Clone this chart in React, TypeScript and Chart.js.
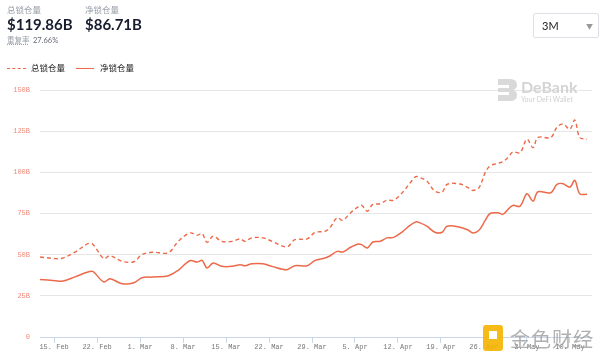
import React, { useEffect, useRef } from "react";
import { Chart, registerables } from "chart.js";

Chart.register(...registerables);

// days offset from 15 Feb
const days = [
  -2.3, 0.2, 1.3, 3.4, 5.5, 6.3, 8.1, 9.1, 11.1, 13.0, 14.3, 16.0, 18.6, 20.2, 22.1, 23.3, 24.1, 24.9,
  25.9, 27.3, 29.0, 30.3, 31.1, 32.2, 34.0, 35.5, 37.9, 39.2, 41.2, 42.5, 44.1, 44.9, 46.1, 47.0,
  48.3, 49.5, 50.1, 51.0, 51.9, 53.1, 54.2, 55.3, 56.8, 58.0, 58.9, 59.6, 60.7, 62.0, 63.2, 64.0,
  66.1, 67.4, 68.2, 69.2, 70.2, 71.0, 72.3, 73.1, 73.9, 74.7, 75.9, 77.0, 78.0, 78.8, 80.9, 81.9,
  82.9, 84.0, 84.8, 85.6, 86.8,
];
const totalLocked = [
  48.6, 47.6, 47.8, 51.5, 56.7, 56.3, 47.6, 49.4, 45.9, 45.7, 50.0, 51.5, 51.2, 58.0, 63.2, 61.8, 62.8, 57.5,
  61.2, 58.1, 58.1, 59.6, 58.1, 60.2, 60.2, 58.1, 54.7, 59.1, 59.6, 63.5, 64.2, 66.3, 72.4, 70.9,
  75.5, 79.0, 79.9, 76.4, 80.5, 80.9, 83.1, 83.1, 88.0, 93.7, 97.4, 96.8, 94.7, 88.6, 88.0, 92.7,
  92.9, 90.7, 89.0, 90.7, 99.8, 103.9, 105.5, 106.5, 109.0, 112.4, 112.0, 120.1, 115.0, 121.2, 121.2, 127.5,
  129.3, 126.2, 131.7, 121.2, 120.1,
];
const netLocked = [
  34.9, 34.2, 33.9, 36.5, 39.5, 39.8, 33.4, 35.4, 32.3, 32.9, 36.0, 36.4, 37.2, 40.5, 46.3, 45.5, 46.5, 41.9,
  44.9, 42.9, 42.9, 43.9, 43.3, 44.5, 44.5, 42.9, 40.9, 43.3, 43.3, 46.5, 48.0, 49.2, 52.0, 51.6,
  54.5, 56.5, 56.1, 54.1, 57.7, 58.1, 60.2, 60.5, 64.2, 67.9, 69.9, 69.3, 67.3, 63.6, 63.6, 67.3,
  66.7, 65.0, 63.2, 64.8, 70.8, 75.0, 75.4, 74.6, 77.4, 79.9, 79.5, 87.0, 82.5, 88.2, 87.6, 92.7,
  93.1, 91.0, 95.1, 87.0, 86.7,
];
const tickDays = [0, 7, 14, 21, 28, 35, 42, 49, 56, 63, 70, 77, 84];
const tickLabels = [
  "15. Feb", "22. Feb", "1. Mar", "8. Mar", "15. Mar", "22. Mar", "29. Mar",
  "5. Apr", "12. Apr", "19. Apr", "26. Apr", "3. May", "10. May",
];
const seriesNames = ["总锁仓量", "净锁仓量"];

const LINE = "#ec6a4a";

export default function App() {
  const ref = useRef<HTMLCanvasElement | null>(null);
  useEffect(() => {
    if (!ref.current) return;
    const chart = new Chart(ref.current, {
      type: "line",
      data: {
        datasets: [
          {
            label: seriesNames[0],
            data: days.map((d, i) => ({ x: d, y: totalLocked[i] })),
            borderColor: LINE,
            borderWidth: 1.4,
            borderDash: [4, 3],
            pointRadius: 0,
            tension: 0.35,
            fill: false,
          },
          {
            label: seriesNames[1],
            data: days.map((d, i) => ({ x: d, y: netLocked[i] })),
            borderColor: LINE,
            borderWidth: 1.5,
            pointRadius: 0,
            tension: 0.35,
            fill: false,
          },
        ],
      },
      options: {
        animation: false,
        responsive: false,
        maintainAspectRatio: false,
        layout: { padding: { top: 90, right: 8, left: 0, bottom: 0 } },
        plugins: { legend: { display: false }, tooltip: { enabled: false } },
        scales: {
          x: {
            type: "linear",
            min: -2.3,
            max: 87.6,
            afterBuildTicks: (scale: any) => {
              scale.ticks = tickDays.map((v) => ({ value: v }));
            },
            afterFit: (scale: any) => {
              scale.height = 24;
            },
            grid: { drawOnChartArea: false, drawTicks: true, tickLength: 6, color: "#ccd6eb" },
            border: { color: "#ccd6eb" },
            ticks: {
              autoSkip: false,
              maxRotation: 0,
              padding: 0,
              color: "#777",
              font: { family: "'Liberation Mono', monospace", size: 7 },
              callback: (v: any) => {
                const i = tickDays.indexOf(Number(v));
                return i >= 0 ? tickLabels[i] : "";
              },
            },
          },
          y: {
            min: 0,
            max: 150,
            afterFit: (scale: any) => {
              scale.width = 40;
            },
            grid: { color: "#e6e6e6", drawTicks: false },
            border: { display: false },
            ticks: {
              stepSize: 25,
              padding: 10,
              color: "#f08a78",
              font: { family: "'Liberation Mono', monospace", size: 7 },
              callback: (v: any) => (Number(v) === 0 ? "0" : v + "B"),
            },
          },
        },
      },
    });
    return () => chart.destroy();
  }, []);

  const sans = "Lato, 'Noto Sans CJK SC', sans-serif";
  return (
    <div style={{ position: "absolute", left: 0, top: 0, width: 600, height: 361, background: "#fff", overflow: "hidden", fontFamily: sans }}>
      <canvas ref={ref} width={600} height={361} style={{ position: "absolute", left: 0, top: 0, width: 600, height: 361 }} />
      {/* header */}
      <div style={{ position: "absolute", left: 7, top: 5, fontSize: 8.5, color: "#9aa0aa", lineHeight: "10px" }}>总锁仓量</div>
      <div style={{ position: "absolute", left: 7, top: 15, fontSize: 15, fontWeight: 700, color: "#161c2e", lineHeight: "18px" }}>$119.86B</div>
      <div style={{ position: "absolute", left: 85, top: 5, fontSize: 8.5, color: "#9aa0aa", lineHeight: "10px" }}>净锁仓量</div>
      <div style={{ position: "absolute", left: 85, top: 15, fontSize: 15, fontWeight: 700, color: "#161c2e", lineHeight: "18px" }}>$86.71B</div>
      <div style={{ position: "absolute", left: 7, top: 36, fontSize: 7.5, color: "#9aa0aa", lineHeight: "10px", textDecoration: "underline dotted" }}>重复率</div>
      <div style={{ position: "absolute", left: 33, top: 36, fontSize: 7.5, color: "#666b78", lineHeight: "10px" }}>27.66%</div>
      {/* legend */}
      <div style={{ position: "absolute", left: 7, top: 68, width: 19, borderTop: `1.3px dashed ${LINE}` }} />
      <div style={{ position: "absolute", left: 31, top: 63, fontSize: 8.5, color: "#222", lineHeight: "10px" }}>{seriesNames[0]}</div>
      <div style={{ position: "absolute", left: 76, top: 68, width: 18, borderTop: `1.5px solid ${LINE}` }} />
      <div style={{ position: "absolute", left: 100, top: 63, fontSize: 8.5, color: "#222", lineHeight: "10px" }}>{seriesNames[1]}</div>
      {/* dropdown */}
      <div style={{ position: "absolute", left: 533, top: 13, width: 66, height: 25, border: "1px solid #dde0e6", borderRadius: 2, boxSizing: "border-box" }}>
        <div style={{ position: "absolute", left: 8, top: 6, fontSize: 11, color: "#222", lineHeight: "12px" }}>3M</div>
        <div style={{ position: "absolute", left: 52, top: 6, fontSize: 7, color: "#999", lineHeight: "12px" }}>▼</div>
      </div>
      {/* DeBank watermark */}
      <svg style={{ position: "absolute", left: 498, top: 79 }} width={20} height={22} viewBox="0 0 20 22">
        <path d="M0 0 H12 Q19 0 19 6 Q19 10 15 11 Q19 12 19 16 Q19 22 12 22 H0 V16 H11 V13 H0 V9 H11 V6 H0 Z" fill="#d9d9d9" />
      </svg>
      <div style={{ position: "absolute", left: 521, top: 78, fontSize: 16, fontWeight: 700, color: "#d4d4d4", lineHeight: "17px" }}>DeBank</div>
      <div style={{ position: "absolute", left: 521, top: 95, fontSize: 7, color: "#cfcfcf", lineHeight: "8px" }}>Your DeFi Wallet</div>
      {/* 金色财经 watermark */}
      <div style={{ position: "absolute", left: 483, top: 325, width: 20, height: 26, background: "#f5b400", borderRadius: 3, opacity: 0.9 }} />
      <div style={{ position: "absolute", left: 489, top: 331, width: 8, height: 8, background: "#fff" }} />
      <div style={{ position: "absolute", left: 510, top: 326, fontSize: 20, color: "rgba(150,150,150,0.75)", lineHeight: "26px", fontFamily: "'Noto Sans CJK SC', sans-serif", letterSpacing: 1 }}>金色财经</div>
    </div>
  );
}
